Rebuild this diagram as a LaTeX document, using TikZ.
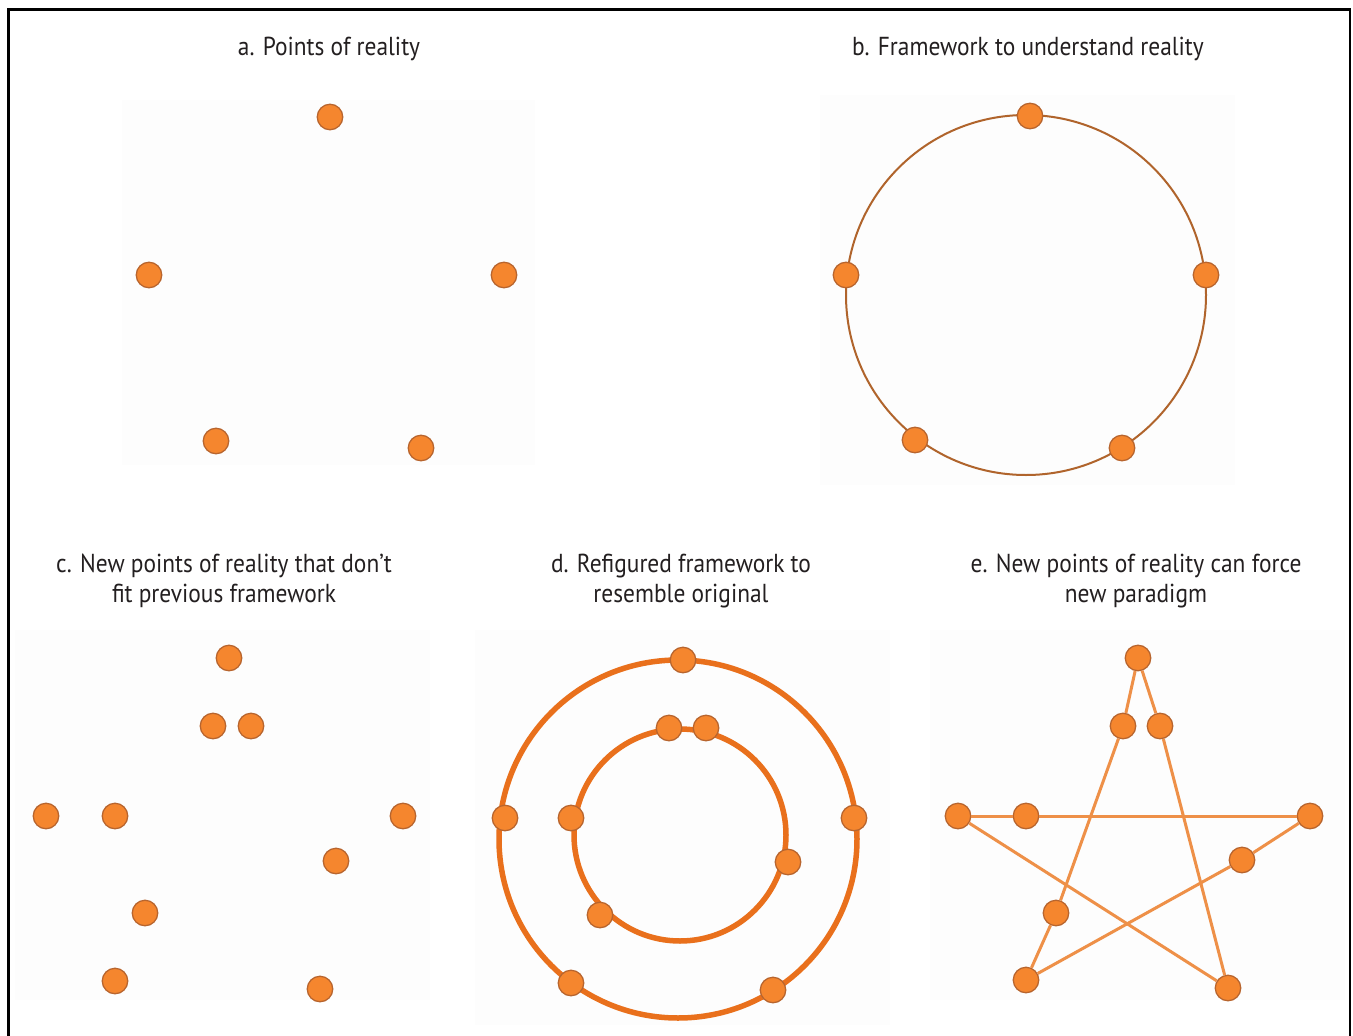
\documentclass[tikz,border=0pt]{standalone}
\usepackage{fontspec}
\setmainfont{PT Sans}[FakeStretch=0.9]
\definecolor{dotfill}{HTML}{F5862E}
\definecolor{dotedge}{HTML}{B8652E}
\definecolor{ringb}{HTML}{B0642C}
\definecolor{ringd}{HTML}{E9701C}
\definecolor{starline}{HTML}{EE9048}
\definecolor{panelbg}{HTML}{FDFDFD}
\definecolor{txt}{HTML}{231F20}
\tikzset{
  dot/.style={circle, fill=dotfill, draw=dotedge, line width=1.3pt, minimum size=25.5pt, inner sep=0pt},
  title/.style={align=center, font=\fontsize{26}{30}\selectfont, text=txt, inner sep=0pt},
  panel/.style={fill=panelbg, draw=none},
  thinring/.style={draw=ringb, line width=2pt},
  thickring/.style={draw=ringd, line width=5.5pt},
  starseg/.style={draw=starline, line width=3pt}
}
\begin{document}
\begin{tikzpicture}[x=1pt,y=-1pt]
\useasboundingbox (0,0) rectangle (1353,1036);
\fill[white] (0,0) rectangle (1353,1036);
% frame
\draw[line width=2.2pt, black] (8.5,1040) -- (8.5,9.5) -- (1350,9.5) -- (1350,1040);
% panel backgrounds
\path[panel] (122,100) rectangle (535,465);
\path[panel] (820,95) rectangle (1235,485);
\path[panel] (15,630) rectangle (430,1000);
\path[panel] (475,630) rectangle (890,1025);
\path[panel] (930,630) rectangle (1345,1000);
% titles
\node[title] (ta) at (329,49) {a. Points of reality};
\node[title] (tb) at (1028,49) {b. Framework to understand reality};
\node[title] (tc) at (224,581) {c. New points of reality that don’t\\fit previous framework};
\node[title] (td) at (681,581) {d. Refigured framework to\\resemble original};
\node[title] (te) at (1136,581) {e. New points of reality can force\\new paradigm};
% panel a
\node[dot] (a1) at (330,117) {};
\node[dot] (a2) at (149,275) {};
\node[dot] (a3) at (504,275) {};
\node[dot] (a4) at (216,441) {};
\node[dot] (a5) at (421,448) {};
% panel b
\draw[thinring] (1026,295) circle[radius=180];
\node[dot] (b1) at (1030,116) {};
\node[dot] (b2) at (846,275) {};
\node[dot] (b3) at (1206,275) {};
\node[dot] (b4) at (915,440) {};
\node[dot] (b5) at (1122,448) {};
% panel c
\node[dot] (c1) at (229,658) {};
\node[dot] (c2) at (213,726) {};
\node[dot] (c3) at (251,726) {};
\node[dot] (c4) at (46,816) {};
\node[dot] (c5) at (115,816) {};
\node[dot] (c6) at (403,816) {};
\node[dot] (c7) at (336,861) {};
\node[dot] (c8) at (145,913) {};
\node[dot] (c9) at (115,981) {};
\node[dot] (c10) at (320,989) {};
% panel d
\draw[thickring] (678,839) circle[radius=179];
\draw[thickring] (680,835) circle[radius=106];
\node[dot] (d1) at (683,660) {};
\node[dot] (d2) at (505,818) {};
\node[dot] (d3) at (854,818) {};
\node[dot] (d4) at (571,983) {};
\node[dot] (d5) at (773,990) {};
\node[dot] (d6) at (669,728) {};
\node[dot] (d7) at (706,728) {};
\node[dot] (d8) at (571,818) {};
\node[dot] (d9) at (788,862) {};
\node[dot] (d10) at (600,915) {};
% panel e
\node[dot] (e1) at (1138,658) {};
\node[dot] (e2) at (1123,726) {};
\node[dot] (e3) at (1160,726) {};
\node[dot] (e4) at (958,816) {};
\node[dot] (e5) at (1026,816) {};
\node[dot] (e6) at (1310,816) {};
\node[dot] (e7) at (1242,860) {};
\node[dot] (e8) at (1056,913) {};
\node[dot] (e9) at (1026,980) {};
\node[dot] (e10) at (1228,988) {};
\draw[starseg] (e1) -- (e2);
\draw[starseg] (e2) -- (e8);
\draw[starseg] (e8) -- (e9);
\draw[starseg] (e9) -- (e7);
\draw[starseg] (e7) -- (e6);
\draw[starseg] (e6) -- (e5);
\draw[starseg] (e5) -- (e4);
\draw[starseg] (e4) -- (e10);
\draw[starseg] (e10) -- (e3);
\draw[starseg] (e3) -- (e1);
\end{tikzpicture}
\end{document}
